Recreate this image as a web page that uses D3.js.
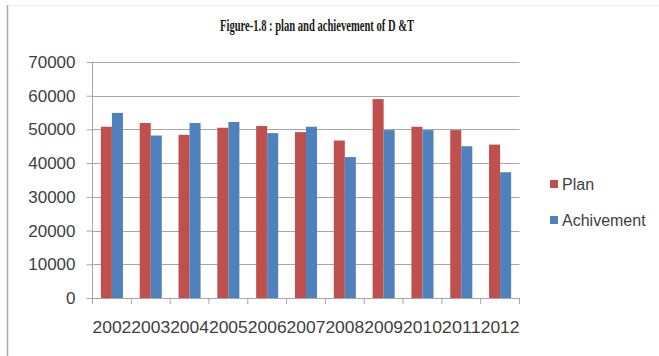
<!DOCTYPE html>
<html>
  <head>
    <meta charset="UTF-8">
    <title>plan and achievement of D &amp;T</title>
  </head>
  <style type="text/css">
    body { margin: 0; background: #fff; }
    svg { display: block; }
    .tick text { font: 17px "Liberation Sans", Arial, sans-serif; fill: #404040; }
    .legend text { font: 16px "Liberation Sans", Arial, sans-serif; fill: #404040; }
    .title { font: bold 17px "Liberation Serif", "Times New Roman", serif; fill: #1a1a1a; }
  </style>
  <body>
    <svg width="659" height="356"></svg>
  </body>
  <script src="https://d3js.org/d3.v7.min.js"></script>
  <script type="text/javascript">
    const years = ['2002', '2003', '2004', '2005', '2006', '2007', '2008', '2009', '2010', '2011', '2012'];
    const plan = [50800, 51900, 48400, 50500, 51000, 49200, 46700, 59000, 50800, 49800, 45500];
    const achivement = [54900, 48200, 51900, 52200, 48900, 50800, 41800, 49800, 49800, 45000, 37300];
    const seriesNames = ['Plan', 'Achivement'];
    const colors = ['#C0504D', '#4F81BD'];
    const yTicks = [0, 10000, 20000, 30000, 40000, 50000, 60000, 70000];

    let svg = d3.select('svg');

    // chart frame (faint, left edge darker)
    svg.append('line').attr('x1', 7).attr('x2', 659).attr('y1', 5.5).attr('y2', 5.5)
      .attr('stroke', '#eeeeee');
    svg.append('line').attr('x1', 7.5).attr('x2', 7.5).attr('y1', 5).attr('y2', 356)
      .attr('stroke', '#a8a8a8').attr('stroke-width', 1.5);

    svg.append('text').attr('class', 'title')
      .attr('x', 317).attr('y', 31).attr('text-anchor', 'middle')
      .attr('textLength', 194).attr('lengthAdjust', 'spacingAndGlyphs')
      .text('Figure-1.8 : plan and achievement of D &T');

    const plotLeft = 92.5, plotRight = 519.5, plotTop = 62, plotBottom = 298;

    const x = d3.scaleBand().domain(years).range([plotLeft, plotRight]).paddingInner(0).paddingOuter(0);
    const sub = d3.scaleBand().domain(seriesNames).range([0, x.bandwidth()]).paddingInner(0).paddingOuter(0.76);
    const y = d3.scaleLinear().domain([0, 70000]).range([plotBottom, plotTop]);

    // gridlines
    svg.append('g')
      .selectAll('line')
      .data(yTicks.slice(1))
      .join('line')
        .attr('x1', plotLeft).attr('x2', plotRight)
        .attr('y1', d => Math.round(y(d)) + 0.5).attr('y2', d => Math.round(y(d)) + 0.5)
        .attr('stroke', '#a6a6a6').attr('stroke-width', 1);

    // bars
    const groups = svg.append('g')
      .selectAll('g')
      .data(years)
      .join('g')
        .attr('transform', d => 'translate(' + x(d) + ',0)');

    groups.selectAll('rect')
      .data((d, i) => [{ k: 'Plan', v: plan[i] }, { k: 'Achivement', v: achivement[i] }])
      .join('rect')
        .attr('x', d => sub(d.k))
        .attr('width', sub.bandwidth())
        .attr('y', d => y(d.v))
        .attr('height', d => y(0) - y(d.v))
        .attr('fill', (d, i) => colors[i]);

    // y axis
    const yAxis = svg.append('g')
      .attr('transform', 'translate(' + plotLeft + ',0)')
      .call(d3.axisLeft(y).tickValues(yTicks).tickSize(6).tickPadding(11).tickFormat(d3.format('d')));
    yAxis.selectAll('line, path').attr('stroke', '#a6a6a6');
    yAxis.select('.domain').attr('d', 'M0,' + plotTop + 'V' + plotBottom);

    // x axis
    const xAxis = svg.append('g')
      .attr('transform', 'translate(0,' + plotBottom + ')')
      .call(d3.axisBottom(x).tickSize(0).tickPadding(23));
    xAxis.select('.domain').attr('stroke', '#a6a6a6');
    xAxis.selectAll('.tick line').remove();
    xAxis.selectAll('.tick text').attr('textLength', x.bandwidth()).attr('lengthAdjust', 'spacingAndGlyphs');

    // category boundary ticks on the x axis
    svg.append('g')
      .selectAll('line')
      .data(years.concat(['end']))
      .join('line')
        .attr('x1', (d, i) => i < years.length ? x(d) : plotRight)
        .attr('x2', (d, i) => i < years.length ? x(d) : plotRight)
        .attr('y1', plotBottom).attr('y2', plotBottom + 6)
        .attr('stroke', '#a6a6a6');

    // legend
    const legend = svg.append('g').attr('class', 'legend')
      .selectAll('g')
      .data(seriesNames)
      .join('g')
        .attr('transform', (d, i) => 'translate(550,' + (180 + i * 36) + ')');
    legend.append('rect').attr('width', 8).attr('height', 8).attr('fill', (d, i) => colors[i]);
    legend.append('text').attr('x', 12).attr('y', 4).attr('dy', '0.35em').text(d => d);
  </script>
</html>
